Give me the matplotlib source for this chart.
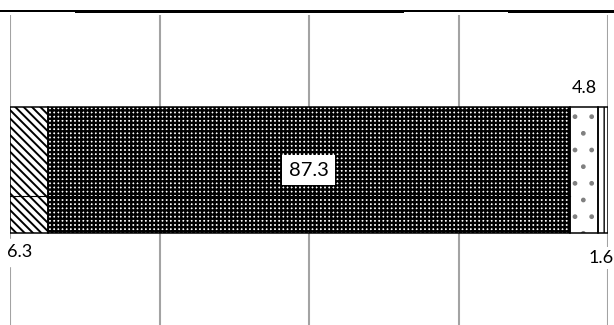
import numpy as np
import matplotlib.pyplot as plt
from matplotlib.lines import Line2D

plt.rcParams['font.family'] = ['Lato', 'DejaVu Sans']

# data
values = [6.3, 87.3, 4.8, 1.6]
labels = ['6.3', '87.3', '4.8', '1.6']
ticks = [0, 25, 50, 75, 100]

W, H = 614, 325
fig = plt.figure(figsize=(W / 100, H / 100), dpi=100)
ax = fig.add_axes([10 / W, 0, 598 / W, 1 - 15 / H])
ax.set_xlim(0, 100)
ax.set_ylim(-0.5, 0.5)
ax.axis('off')

for t in ticks:
    ax.axvline(t, color='#a3a3a3', lw=1.5, zorder=0)

lefts = np.concatenate([[0], np.cumsum(values)[:-1]])
bh = 0.404

# pattern layers: (face, hatch, hatch colour, hatch width)
styles = [
    ('white', '\\\\\\\\', 'black', 1.4),
    ('white', '++++', 'black', 1.7),
    ('white', '.', '#808080', 1.0),
    ('white', '||', 'black', 1.0),
]
for v, l, (fc, hat, hc, hw) in zip(values, lefts, styles):
    with plt.rc_context({'hatch.linewidth': hw}):
        ax.barh(0, v, left=l, height=bh, color=fc, edgecolor=hc, hatch=hat,
                linewidth=0, zorder=2)
    ax.barh(0, v, left=l, height=bh, fill=False, edgecolor='black',
            linewidth=1.1, zorder=3)

# faint seam line inside the bar
ax.plot([0, lefts[2]], [-0.084, -0.084], color='black', lw=0.8, zorder=3)

# value labels
centers = lefts + np.array(values) / 2
ax.text(centers[0] - 1.55, -0.265, labels[0], ha='center', va='center',
        fontsize=13, backgroundcolor='white', zorder=4)
ax.text(centers[1], 0, labels[1], ha='center', va='center', fontsize=14.5,
        zorder=4, bbox=dict(facecolor='white', edgecolor='none', pad=5))
ax.text(centers[2], 0.265, labels[2], ha='center', va='center',
        fontsize=13, zorder=4)
ax.text(100.9, -0.284, labels[3], ha='right', va='center',
        fontsize=13, zorder=4, clip_on=False,
        bbox=dict(facecolor='white', edgecolor='none', pad=2))

# top border segments
segs = [(0, 76, 2.0), (76, 402, 3.0), (402, 509, 2.0), (509, 614, 3.0)]
for x0, x1, lw in segs:
    fig.add_artist(Line2D([x0 / W, x1 / W], [1 - 10.5 / H, 1 - 10.5 / H],
                          color='black', lw=lw * 0.72,
                          transform=fig.transFigure))

fig.savefig('out.png', dpi=100)
